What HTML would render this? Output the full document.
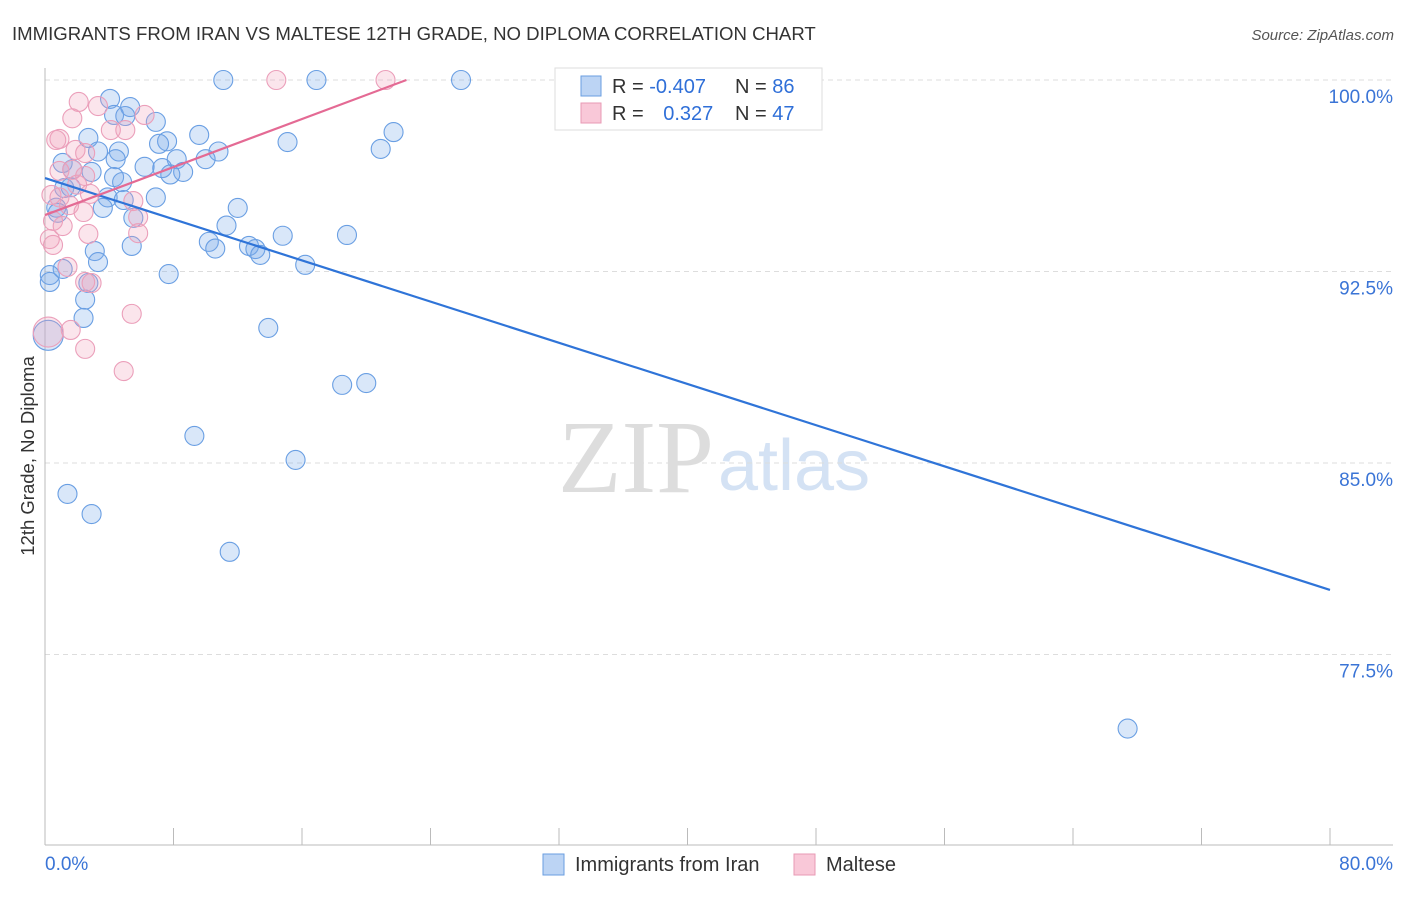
<!DOCTYPE html>
<html><head><meta charset="utf-8"><style>
body{margin:0;background:#fff;font-family:"Liberation Sans",sans-serif;}
svg text{font-family:"Liberation Sans",sans-serif;}
</style></head><body>
<svg id="c" width="1406" height="892">
<text x="12" y="40" font-size="18.6" fill="#333">IMMIGRANTS FROM IRAN VS MALTESE 12TH GRADE, NO DIPLOMA CORRELATION CHART</text>
<text x="1394" y="40" font-size="15" fill="#555" font-style="italic" text-anchor="end">Source: ZipAtlas.com</text>
<text x="34" y="456" font-size="18.5" fill="#333" text-anchor="middle" transform="rotate(-90 34 456)">12th Grade, No Diploma</text>
<text x="714" y="492" font-size="104" fill="#ddd" text-anchor="end" font-family="Liberation Serif" style="font-family:'Liberation Serif',serif">ZIP</text>
<text x="718" y="490" font-size="72" fill="#d4e2f4">atlas</text>
<g id="grid"></g><g id="axes"></g><g id="pts"></g><g id="lines"></g>
<rect x="555" y="68" width="267" height="62" fill="#fff" stroke="#ddd"/>
<rect x="581" y="76" width="20" height="20" fill="#bcd4f4" stroke="#6a9ee0"/>
<rect x="581" y="103" width="20" height="20" fill="#f9c8d8" stroke="#e89ab4"/>
<text x="612" y="93" font-size="20" fill="#333">R = <tspan fill="#2f6fd8">-0.407</tspan></text>
<text x="735" y="93" font-size="20" fill="#333">N = <tspan fill="#2f6fd8">86</tspan></text>
<text x="612" y="120" font-size="20" fill="#333">R = <tspan fill="#2f6fd8" dx="14">0.327</tspan></text>
<text x="735" y="120" font-size="20" fill="#333">N = <tspan fill="#2f6fd8">47</tspan></text>
<rect x="543" y="854" width="21" height="21" fill="#bcd4f4" stroke="#6a9ee0"/>
<text x="575" y="871" font-size="20" fill="#333">Immigrants from Iran</text>
<rect x="794" y="854" width="21" height="21" fill="#f9c8d8" stroke="#e89ab4"/>
<text x="826" y="871" font-size="20" fill="#333">Maltese</text>
</svg>
<script>
const yTicks=[100,92.5,85,77.5];
const yTickLabels=["100.0%","92.5%","85.0%","77.5%"];
const xEndLabels=["0.0%","80.0%"];
const iranX=[11.1,16.9,25.9,4.05,5.3,4.3,5.0,6.9,21.7,9.6,2.7,7.6,7.1,15.1,20.9,10.8,3.3,4.6,4.4,1.1,8.2,10.0,6.2,7.3,8.6,7.8,2.9,1.7,4.3,4.8,1.6,1.2,6.9,3.9,4.9,0.7,3.6,12.0,0.8,5.5,11.3,18.8,14.8,10.2,12.7,10.6,13.1,5.4,13.4,3.1,3.3,16.2,1.1,7.7,0.3,0.3,2.7,2.5,2.4,13.9,0.2,18.5,20.0,9.3,15.6,1.4,2.9,11.5,67.4];
const iranY=[100,100,100,99.26,98.94,98.63,98.59,98.36,97.96,97.85,97.73,97.6,97.5,97.57,97.3,97.2,97.2,97.2,96.9,96.75,96.9,96.9,96.6,96.55,96.4,96.3,96.4,96.5,96.2,96.0,95.8,95.77,95.4,95.4,95.3,95.0,94.99,94.99,94.8,94.6,94.3,93.93,93.9,93.66,93.5,93.4,93.38,93.5,93.15,93.3,92.87,92.76,92.6,92.4,92.36,92.09,92.05,91.4,90.68,90.29,90.0,88.06,88.13,86.06,85.12,83.79,83.0,81.52,74.6];
const maltX=[14.4,21.2,2.1,3.3,6.2,1.7,4.1,5.0,0.9,0.7,1.9,2.5,0.9,1.7,2.5,2.0,0.4,0.9,2.8,5.5,1.5,2.4,0.5,1.1,5.8,5.8,2.7,0.3,0.5,1.4,2.5,2.9,5.4,1.6,0.2,2.5,4.9];
const maltY=[100,100,99.14,98.98,98.63,98.5,98.04,98.04,97.69,97.65,97.26,97.14,96.44,96.48,96.24,95.9,95.5,95.4,95.54,95.26,95.1,94.83,94.48,94.28,94.63,94.0,93.97,93.77,93.54,92.68,92.09,92.05,90.84,90.21,90.13,89.47,88.6];
const iranTrend=[[0,96.16],[80,80.03]];
const maltTrend=[[0,94.71],[22.5,100]];
const NS="http://www.w3.org/2000/svg";
const sx=v=>45+v/80*1285, sy=v=>80+(100-v)/7.5*191.5;
function mk(t,a,p){const e=document.createElementNS(NS,t);for(const k in a)e.setAttribute(k,a[k]);p.appendChild(e);return e;}
const grid=document.getElementById('grid'),axes=document.getElementById('axes'),pts=document.getElementById('pts'),lines=document.getElementById('lines');
yTicks.forEach((t,i)=>{
 const l=mk('line',{x1:45,x2:1393,y1:sy(t),y2:sy(t),stroke:'#ddd','stroke-dasharray':'5,4'},grid);
 
 
 const tx=mk('text',{x:1393,y:sy(t)+23,'font-size':19,fill:'#3a74d6','text-anchor':'end'},axes);
 tx.textContent=yTickLabels[i];
 
 
});
const ya=mk('line',{x1:45,x2:45,y1:68,y2:845,stroke:'#bbb'},axes);


const xa=mk('line',{x1:45,x2:1393,y1:845,y2:845,stroke:'#bbb'},axes);


for(let i=0;i<=10;i++){const v=i*8;
 const tk=mk('line',{x1:sx(v),x2:sx(v),y1:828,y2:845,stroke:'#bbb'},axes);
 
 }
[[0,'start'],[80,'end']].forEach((d,i)=>{
 const t=mk('text',{x:i?1393:45,y:870,'font-size':19,fill:'#3a74d6','text-anchor':d[1]},axes);
 t.textContent=xEndLabels[i];
 
 });
function dots(X,Y,fill,stroke,name){X.forEach((x,i)=>{
 const r=(x<0.3&&Y[i]>89.9&&Y[i]<90.3)?15:9.5;
 const c=mk('circle',{cx:sx(x),cy:sy(Y[i]),r:r,fill:fill,stroke:stroke,'stroke-width':1.1},pts);
 
 });}
dots(iranX,iranY,'rgba(120,170,235,0.28)','#6a9fe3','iran-point');
dots(maltX,maltY,'rgba(240,160,188,0.28)','#eb9fba','maltese-point');
const l1=mk('line',{x1:sx(iranTrend[0][0]),y1:sy(iranTrend[0][1]),x2:sx(iranTrend[1][0]),y2:sy(iranTrend[1][1]),stroke:'#2f74d8','stroke-width':2.2},lines);


const l2=mk('line',{x1:sx(maltTrend[0][0]),y1:sy(maltTrend[0][1]),x2:sx(maltTrend[1][0]),y2:sy(maltTrend[1][1]),stroke:'#e46a94','stroke-width':2.2},lines);


</script>
</body></html>
